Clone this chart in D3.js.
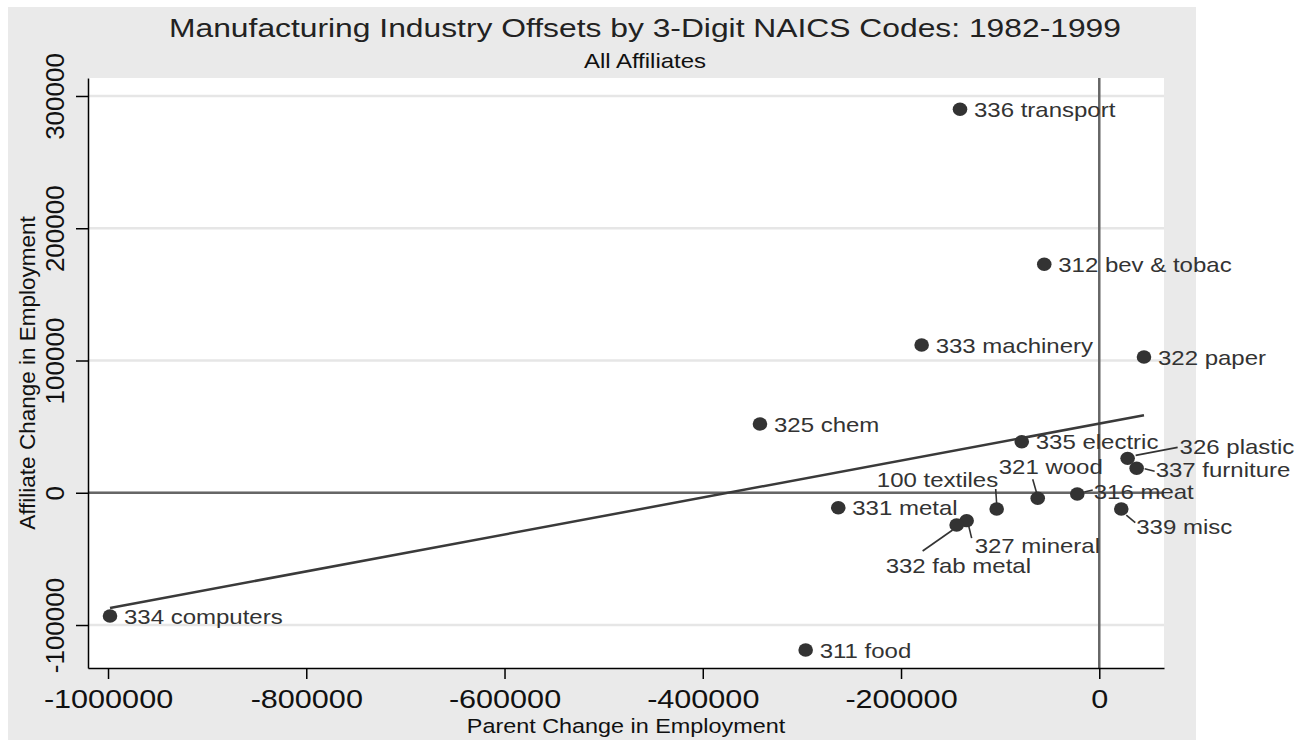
<!DOCTYPE html>
<html>
<head>
<meta charset="utf-8">
<script src="https://cdn.jsdelivr.net/npm/d3@7"></script>
<style>
    body { margin: 0; background: #fff; }
    svg { display: block; font-family: "Liberation Sans", Arial, sans-serif; }
</style>
</head>
<body>
<svg id="chart" width="1298" height="740"></svg>
<script>
(function () {
    'use strict';

    // values (employment change, 1982-1999)
    const industries = [
        '336 transport', '312 bev & tobac', '333 machinery', '322 paper',
        '325 chem', '335 electric', '326 plastic', '337 furniture',
        '316 meat', '321 wood', '100 textiles', '331 metal', '339 misc',
        '327 mineral', '332 fab metal', '334 computers', '311 food'
    ];
    const parentChange = [
        -140500, -55500, -179200, 45100,
        -342300, -78200, 28600, 37700,
        -22200, -62100, -103500, -263300, 22200,
        -133800, -143900, -998000, -296200
    ];
    const affiliateChange = [
        290000, 172800, 111700, 102600,
        52000, 38600, 26000, 18500,
        -900, -4200, -12300, -11300, -12300,
        -21100, -24400, -93200, -118900
    ];
    const xTicks = [-1000000, -800000, -600000, -400000, -200000, 0];
    const yTicks = [-100000, 0, 100000, 200000, 300000];
    const xDomain = [-1020200, 65300];
    const yDomain = [-132500, 313600];

    // labels that sit away from their marker (offsets in px from the marker)
    const labelPlace = {
        '326 plastic':   { dx: 52, dy: -12, line: [8, -3, 50, -11] },
        '337 furniture': { dx: 19, dy: 2, line: [8, 0.5, 18, 3] },
        '316 meat':      { dx: 16.5, dy: -2.5, line: [7, -2, 15.5, -4] },
        '339 misc':      { dx: 15, dy: 18, line: [5, 6, 14, 13.5] },
        '321 wood':      { dx: -39, dy: -32, line: [-1, -5, -5, -19] },
        '100 textiles':  { dx: 1.5, dy: -29, anchor: 'end', line: [0, -5, -1, -20] },
        '327 mineral':   { dx: 8, dy: 25, line: [2, 5, 5, 17.5] },
        '332 fab metal': { dx: -71, dy: 40.5, line: [-4, 5, -34, 26] }
    };

    let stretch = 1.2; // text in the source is drawn wide
    let dark = '#333333';

    let data = industries.map(function (name, i) {
        return { name: name, x: parentChange[i], y: affiliateChange[i] };
    });

    let svg = d3.select('#chart');

    let x = d3.scaleLinear().domain(xDomain).range([88, 1164]);
    let y = d3.scaleLinear().domain(yDomain).range([668, 78]);

    // backgrounds
    svg.append('rect')
        .attr('x', 8).attr('y', 7)
        .attr('width', 1188).attr('height', 733)
        .style('fill', '#eaeaea');
    svg.append('rect')
        .attr('x', 88).attr('y', 78)
        .attr('width', 1076).attr('height', 590)
        .style('fill', '#ffffff');

    // grid
    svg.append('g')
        .selectAll('line')
        .data(yTicks)
        .enter()
        .append('line')
        .attr('x1', 88).attr('x2', 1164)
        .attr('y1', function (d) { return y(d); })
        .attr('y2', function (d) { return y(d); })
        .style('stroke', '#e6e6e6')
        .style('stroke-width', 2.5);

    // zero reference lines
    svg.append('line')
        .attr('x1', 88).attr('x2', 1164)
        .attr('y1', y(0)).attr('y2', y(0))
        .style('stroke', '#666666').style('stroke-width', 2.5);
    svg.append('line')
        .attr('x1', x(0)).attr('x2', x(0))
        .attr('y1', 78).attr('y2', 668)
        .style('stroke', '#666666').style('stroke-width', 2.5);

    // linear fit
    let mx = d3.mean(data, function (d) { return d.x; });
    let my = d3.mean(data, function (d) { return d.y; });
    let sxy = d3.sum(data, function (d) { return (d.x - mx) * (d.y - my); });
    let sxx = d3.sum(data, function (d) { return (d.x - mx) * (d.x - mx); });
    let slope = sxy / sxx;
    let intercept = my - slope * mx;
    let xExt = d3.extent(data, function (d) { return d.x; });
    svg.append('path')
        .datum(xExt)
        .attr('d', d3.line()
            .x(function (d) { return x(d); })
            .y(function (d) { return y(intercept + slope * d); }))
        .style('stroke', '#3a3a3a')
        .style('stroke-width', 2.5)
        .style('fill', 'none');

    // axes
    let xAxis = d3.axisBottom(x)
        .tickValues(xTicks)
        .tickSize(11)
        .tickSizeOuter(0)
        .tickFormat(function (d) { return String(d); });
    let gx = svg.append('g')
        .attr('transform', 'translate(0,668)')
        .call(xAxis);
    gx.select('.domain').style('stroke', '#000').style('stroke-width', 1.5);
    gx.selectAll('.tick line').style('stroke', '#000').style('stroke-width', 1.5);
    gx.selectAll('.tick text')
        .attr('y', 40)
        .attr('dy', 0)
        .attr('transform', 'scale(' + stretch + ',1)')
        .style('font-size', '25.5px')
        .style('font-family', '"Liberation Sans", Arial, sans-serif')
        .style('fill', '#111');

    let yAxis = d3.axisLeft(y)
        .tickValues(yTicks)
        .tickSize(12)
        .tickSizeOuter(0)
        .tickFormat(function (d) { return String(d); });
    let gy = svg.append('g')
        .attr('transform', 'translate(88,0)')
        .call(yAxis);
    gy.select('.domain').style('stroke', '#000').style('stroke-width', 1.5);
    gy.selectAll('.tick line').style('stroke', '#000').style('stroke-width', 1.5);
    gy.selectAll('.tick text')
        .attr('x', 0)
        .attr('y', -24)
        .attr('dy', 0)
        .attr('transform', 'rotate(-90)')
        .attr('text-anchor', 'middle')
        .style('font-size', '26px')
        .style('font-family', '"Liberation Sans", Arial, sans-serif')
        .style('fill', '#111');

    // connector lines
    let withLine = data.filter(function (d) { return labelPlace[d.name]; });
    svg.append('g')
        .selectAll('line')
        .data(withLine)
        .enter()
        .append('line')
        .attr('x1', function (d) { return x(d.x) + labelPlace[d.name].line[0]; })
        .attr('y1', function (d) { return y(d.y) + labelPlace[d.name].line[1]; })
        .attr('x2', function (d) { return x(d.x) + labelPlace[d.name].line[2]; })
        .attr('y2', function (d) { return y(d.y) + labelPlace[d.name].line[3]; })
        .style('stroke', dark)
        .style('stroke-width', 1.6);

    // markers
    svg.append('g')
        .selectAll('ellipse')
        .data(data)
        .enter()
        .append('ellipse')
        .attr('cx', function (d) { return x(d.x); })
        .attr('cy', function (d) { return y(d.y); })
        .attr('rx', 7.3)
        .attr('ry', 6.7)
        .style('fill', dark);

    // marker labels
    svg.append('g')
        .selectAll('text')
        .data(data)
        .enter()
        .append('text')
        .attr('transform', function (d) {
            let p = labelPlace[d.name] || { dx: 14, dy: 0.5 };
            return 'translate(' + (x(d.x) + p.dx) + ',' + (y(d.y) + p.dy) + ') scale(' + stretch + ',1)';
        })
        .attr('dy', '0.36em')
        .attr('text-anchor', function (d) {
            let p = labelPlace[d.name];
            return p && p.anchor ? p.anchor : 'start';
        })
        .style('font-size', '20px')
        .style('fill', dark)
        .text(function (d) { return d.name; });

    // titles
    function stretchedText(tx, ty, size, str, color) {
        return svg.append('text')
            .attr('transform', 'translate(' + tx + ',' + ty + ') scale(' + stretch + ',1)')
            .attr('text-anchor', 'middle')
            .style('font-size', size + 'px')
            .style('fill', color)
            .text(str);
    }
    stretchedText(645, 37, 26.5, 'Manufacturing Industry Offsets by 3-Digit NAICS Codes: 1982-1999', '#222');
    stretchedText(645, 68, 20, 'All Affiliates', '#111');
    stretchedText(626, 733, 19.5, 'Parent Change in Employment', '#111');

    svg.append('text')
        .attr('transform', 'translate(35,' + ((78 + 668) / 2) + ') rotate(-90)')
        .attr('text-anchor', 'middle')
        .style('font-size', '22.5px')
        .style('fill', '#111')
        .text('Affiliate Change in Employment');
})();
</script>
</body>
</html>
